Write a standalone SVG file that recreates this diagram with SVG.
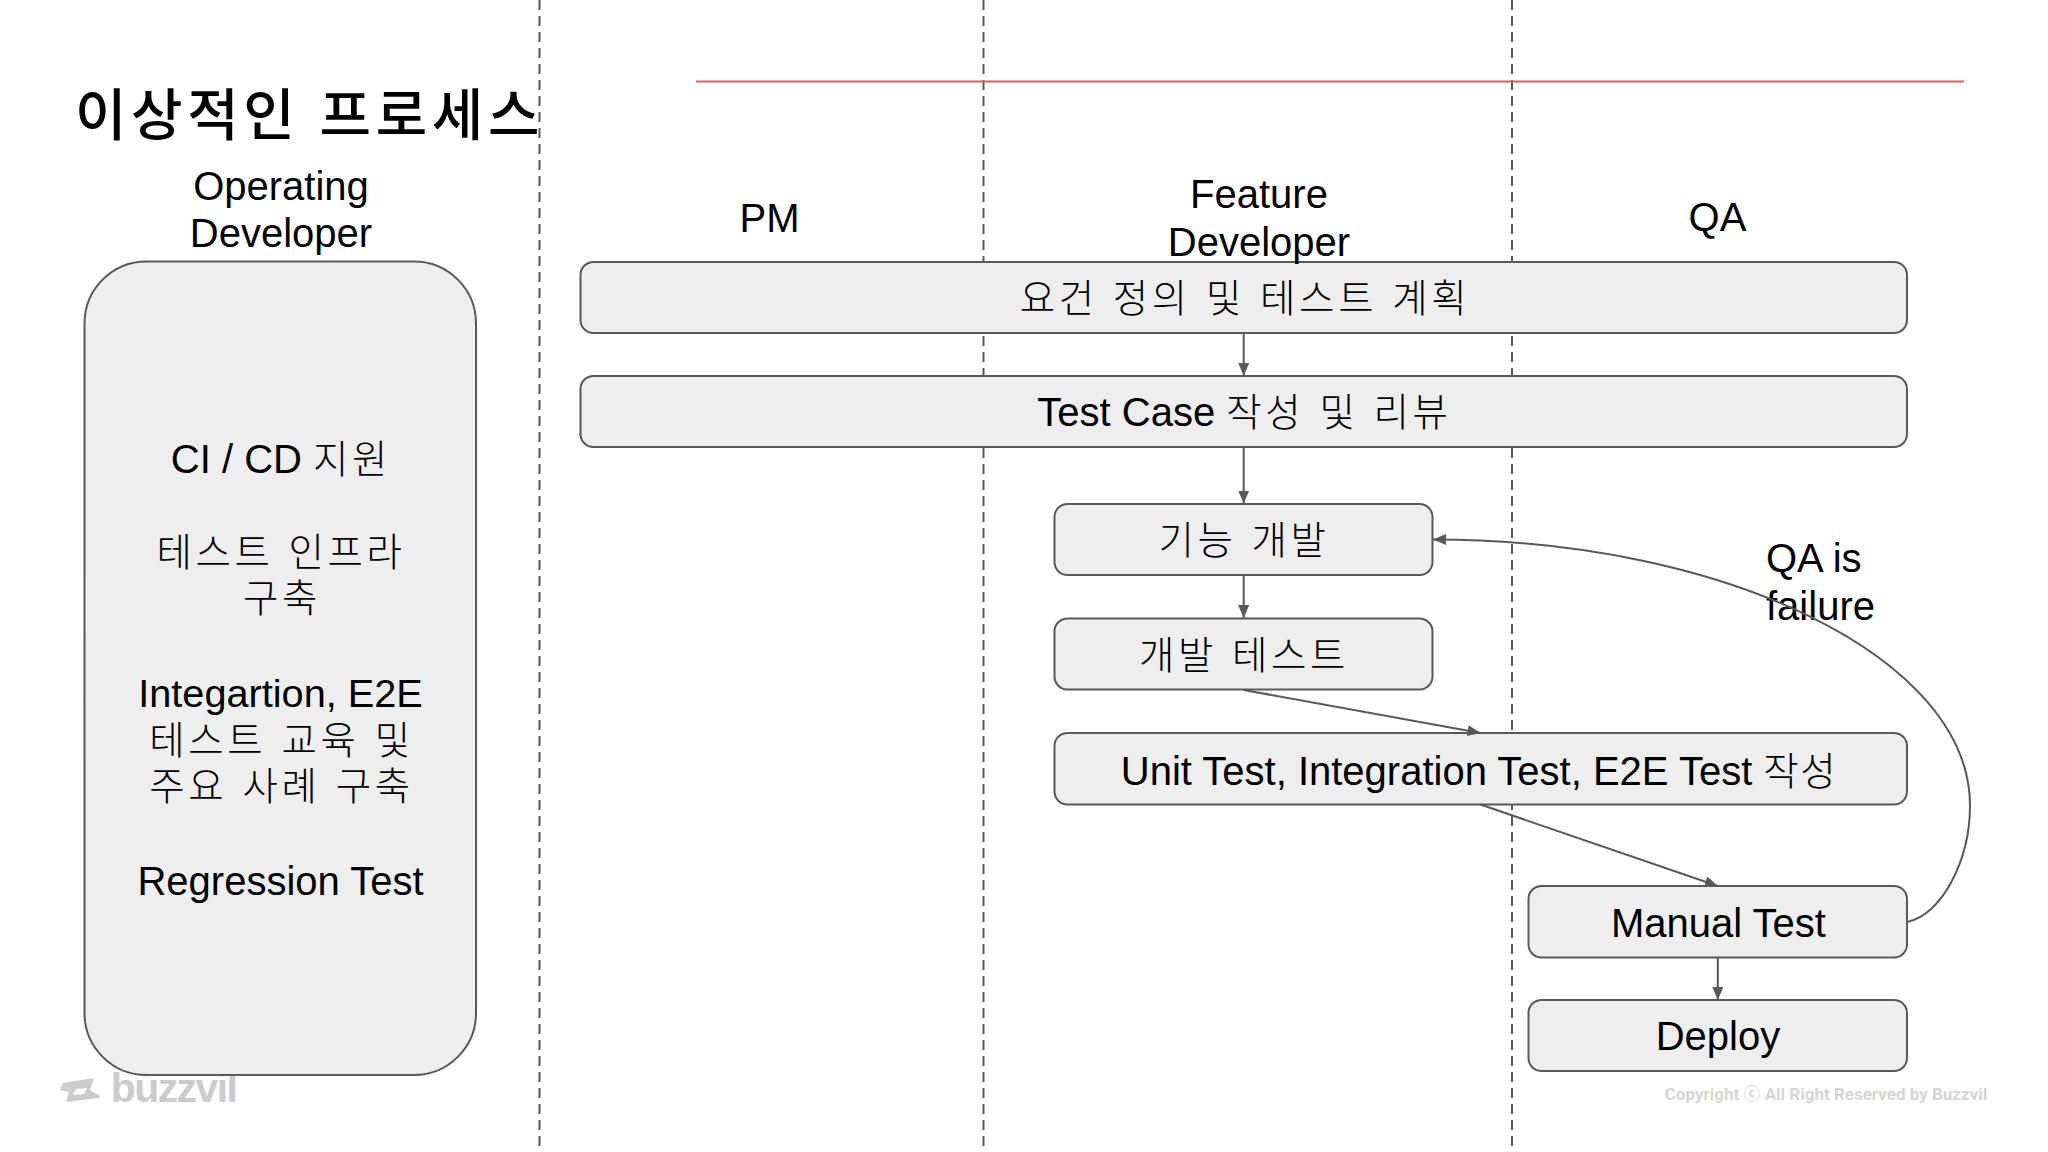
<svg xmlns="http://www.w3.org/2000/svg" width="2048" height="1152" viewBox="0 0 2048 1152">
<defs>
<marker id="arr" markerUnits="userSpaceOnUse" markerWidth="14" markerHeight="12" refX="13" refY="5.5" orient="auto"><path d="M0 0L13 5.5L0 11Z" fill="#595959"/></marker>
</defs>
<style>
text{font-family:"Liberation Sans","Noto Sans CJK KR",sans-serif;font-size:40px;fill:#000;text-anchor:middle}
.k{font-family:"Noto Sans CJK KR",sans-serif;font-size:38.5px;font-weight:300;letter-spacing:3.6px;word-spacing:3px}
.b{fill:#eee;stroke:#595959;stroke-width:2}
.d{stroke:#595959;stroke-width:2;stroke-dasharray:10 6;fill:none}
.c{stroke:#595959;stroke-width:2;fill:none;marker-end:url(#arr)}
</style>
<rect width="2048" height="1152" fill="#fff"/>
<g id="lanes">
<line class="d" x1="539.5" y1="0" x2="539.5" y2="1152"/>
<line class="d" x1="983.5" y1="0" x2="983.5" y2="1152"/>
<line class="d" x1="1512" y1="0" x2="1512" y2="1152"/>
<line x1="696" y1="81.5" x2="1964" y2="81.5" stroke="#dd5f5f" stroke-width="2.2"/>
</g>
<text id="title" x="309.5" y="135" style="font-size:56px;font-weight:500;letter-spacing:4.6px">이상적인 프로세스</text>
<g id="watermark">
<path fill="#ccc" fill-rule="evenodd" d="M63 1083L94 1078L90 1090L100 1096L99 1098L66 1102L69 1092L60 1090ZM76 1089L73 1095L84 1094L87 1088Z"/>
<text x="173.5" y="1101.5" style="font-size:41px;font-weight:700;fill:#ccc;letter-spacing:-1.6px">buzzvil</text>
<text x="1826" y="1100" style="font-family:Roboto,'Noto Sans CJK KR',sans-serif;font-size:17px;font-weight:700;fill:#d6d6d6">Copyright ⓒ All Right Reserved by Buzzvil</text>
</g>
<g id="op-dev">
<rect class="b" x="84.5" y="261.5" width="391.5" height="813.5" rx="62" ry="62"/>
<text x="281" y="473">CI / CD <tspan class="k">지원</tspan></text>
<text class="k" x="281" y="566">테스트 인프라</text>
<text class="k" x="282" y="612">구축</text>
<text x="280.5" y="707" style="font-size:39.7px">Integartion, E2E</text>
<text class="k" x="281.5" y="754">테스트 교육 및</text>
<text class="k" x="281.5" y="800">주요 사례 구축</text>
<text x="280.5" y="895">Regression Test</text>
</g>
<g id="n1"><rect class="b" x="580.5" y="262" width="1326.5" height="71" rx="13"/><text class="k" x="1245" y="312">요건 정의 및 테스트 계획</text></g>
<g id="n2"><rect class="b" x="580.5" y="376" width="1326.5" height="71" rx="13"/><text x="1244.5" y="426">Test Case <tspan class="k">작성 및 리뷰</tspan></text></g>
<g id="n3"><rect class="b" x="1054.5" y="504" width="378" height="71" rx="13"/><text class="k" x="1244" y="554">기능 개발</text></g>
<g id="n4"><rect class="b" x="1054.5" y="618.5" width="378" height="71" rx="13"/><text class="k" x="1244" y="669">개발 테스트</text></g>
<g id="n5"><rect class="b" x="1054.5" y="733" width="852.5" height="71.5" rx="13"/><text x="1479" y="784.5">Unit Test, Integration Test, E2E Test <tspan class="k" style="letter-spacing:1.5px">작성</tspan></text></g>
<g id="n6"><rect class="b" x="1528.5" y="886" width="378.5" height="71.5" rx="13"/><text x="1718.5" y="937">Manual Test</text></g>
<g id="n7"><rect class="b" x="1528.5" y="1000" width="378.5" height="71" rx="13"/><text x="1718" y="1050">Deploy</text></g>
<g id="labels">
<text x="281" y="200">Operating</text><text x="281" y="247">Developer</text>
<text x="769.5" y="232">PM</text>
<text x="1259" y="208">Feature</text><text x="1259" y="256">Developer</text>
<text x="1717.5" y="231">QA</text>
<text x="1766" y="571.5" style="text-anchor:start">QA is</text><text x="1766" y="620" style="text-anchor:start">failure</text>
</g>
<g id="connectors">
<line class="c" x1="1243.7" y1="333" x2="1243.7" y2="376"/>
<line class="c" x1="1243.7" y1="447" x2="1243.7" y2="503.5"/>
<line class="c" x1="1243.7" y1="575" x2="1243.7" y2="618"/>
<line class="c" x1="1243.7" y1="690" x2="1480.5" y2="733"/>
<line class="c" x1="1480.5" y1="804.5" x2="1717.8" y2="886"/>
<line class="c" x1="1717.8" y1="958" x2="1717.8" y2="1000"/>
<path class="c" d="M1907 922C1942 915 1970 860 1970 805.6C1970 659 1728 539.5 1433 539.5"/>
</g>
</svg>
